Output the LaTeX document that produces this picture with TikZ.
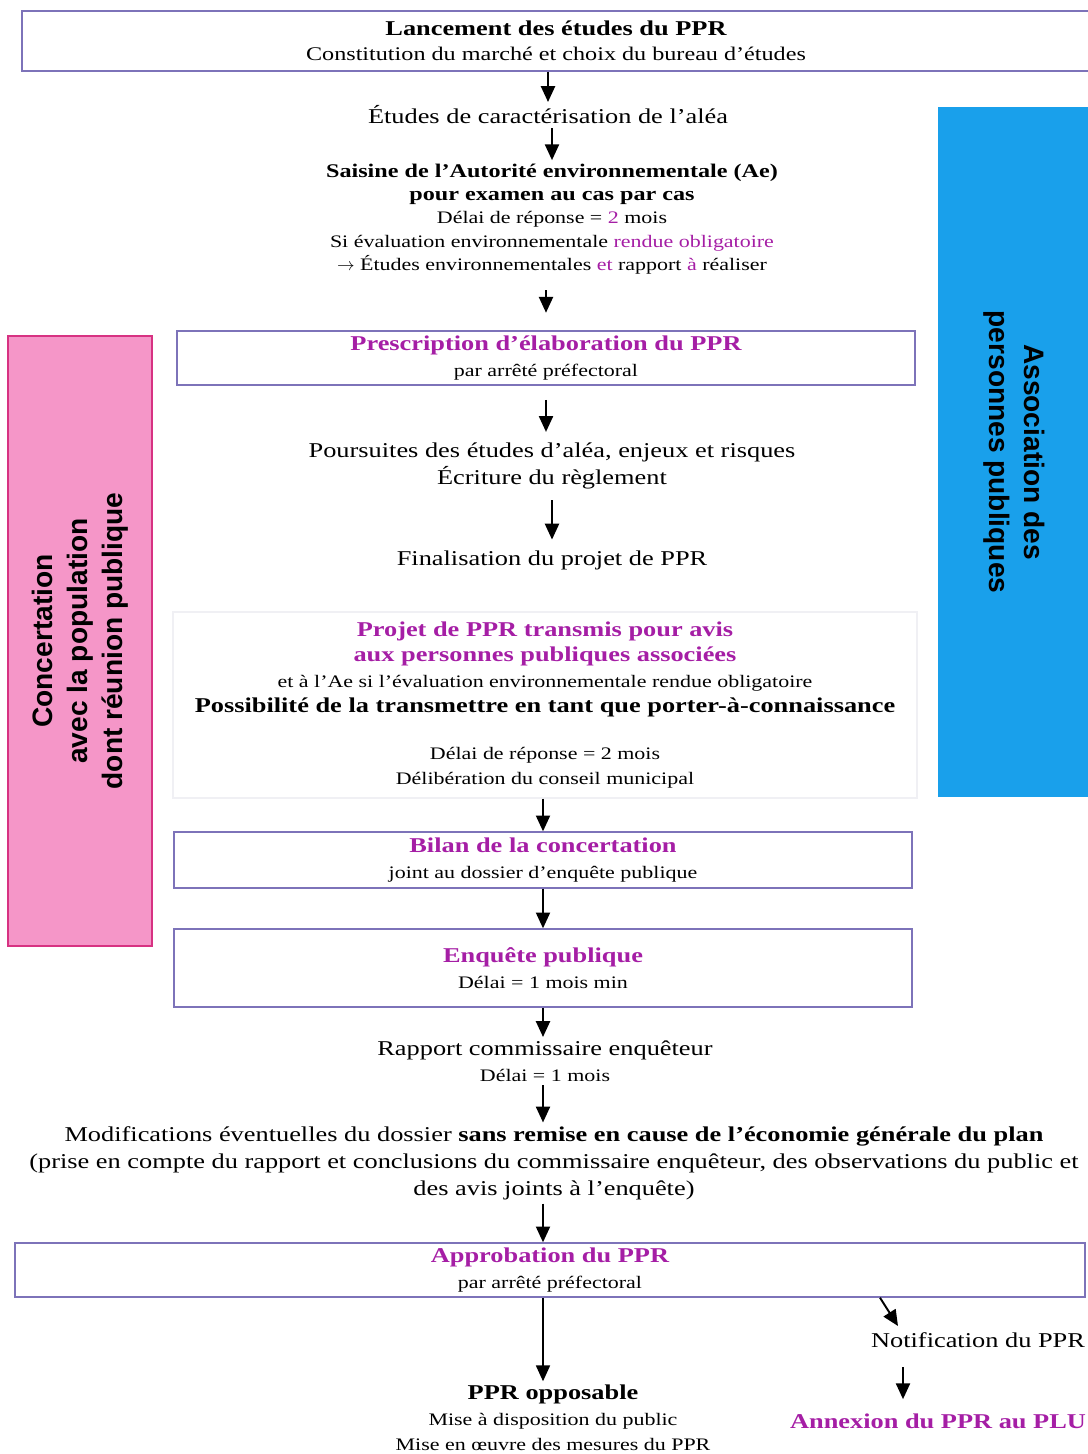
\documentclass[tikz,border=0pt]{standalone}
\usepackage{fontspec}
\setmainfont[FakeStretch=1.25]{Liberation Serif}
\newfontfamily\sidefont{Liberation Sans}
\usetikzlibrary{positioning,arrows.meta}
\definecolor{boxline}{RGB}{125,115,185}
\definecolor{mag}{RGB}{165,30,165}
\definecolor{pinkfill}{RGB}{245,150,200}
\definecolor{pinkline}{RGB}{215,50,130}
\definecolor{bluefill}{RGB}{25,160,235}
\definecolor{faint}{RGB}{240,240,244}
\newcommand\hd{\fontsize{12}{14.5}\selectfont\bfseries}
\newcommand\sm{\fontsize{10}{13}\selectfont}
\tikzset{%
  arrow/.style = { -{Triangle[width=8pt,length=9pt]}, line width = 1.1pt, draw = black },
  tbox/.style  = { draw = #1, thick, align = center, inner sep = 2pt, font = \fontsize{12}{14.5}\selectfont },
  txt/.style   = { align = center, inner sep = 2pt, font = \fontsize{12}{14.5}\selectfont },
  side/.style  = { fill = #1, align = center, font = \sidefont\bfseries\fontsize{16}{20}\selectfont }
}
\begin{document}
\begin{tikzpicture}[x=0.02cm, y=-0.02cm]
\useasboundingbox (0,0) rectangle (1088,1454);
% side bands
\node (conc)  [side=pinkfill, draw=pinkline, thick, rotate=90, minimum width=12.2cm, minimum height=2.88cm] at (80,641)
  {Concertation\\ avec la population\\ dont réunion publique};
\node (assoc) [side=bluefill, rotate=-90, minimum width=13.82cm, minimum height=3.04cm] at (1014,452)
  {Association des\\ personnes publiques};
% main column
\node (lanc) [tbox=boxline, minimum width=21.36cm, minimum height=1.2cm] at (556,41)
  {{\hd Lancement des études du PPR}\\ {\fontsize{11}{13}\selectfont Constitution du marché et choix du bureau d'études}};
\node (etudes) [txt] at (548,115) {Études de caractérisation de l'aléa};
\node (saisine) [txt, font=\fontsize{11}{13.2}\selectfont] at (552,219)
  {{\bfseries Saisine de l'Autorité environnementale (Ae)}\\ {\bfseries pour examen au cas par cas}\\
   {\sm Délai de réponse = \textcolor{mag}{2} mois}\\
   {\sm Si évaluation environnementale \textcolor{mag}{rendue obligatoire}}\\
   {\sm $\rightarrow$ Études environnementales \textcolor{mag}{et} rapport \textcolor{mag}{à} réaliser}};
\node (presc) [tbox=boxline, minimum width=14.76cm, minimum height=1.08cm] at (546,358)
  {{\hd\color{mag} Prescription d'élaboration du PPR}\\ {\sm par arrêté préfectoral}};
\node (pours) [txt] at (552,466) {Poursuites des études d'aléa, enjeux et risques\\[1pt] Écriture du règlement};
\node (final) [txt] at (552,560) {Finalisation du projet de PPR};
\node (projet) [tbox=faint, minimum width=14.88cm, minimum height=3.72cm] at (545,705)
  {{\hd\color{mag} Projet de PPR transmis pour avis}\\ {\hd\color{mag} aux personnes publiques associées}\\
   {\sm et à l'Ae si l'évaluation environnementale rendue obligatoire}\\
   {\hd Possibilité de la transmettre en tant que porter-à-connaissance}\\[12pt]
   {\sm Délai de réponse = 2 mois}\\ {\sm Délibération du conseil municipal}};
\node (bilan) [tbox=boxline, minimum width=14.76cm, minimum height=1.12cm] at (543,860)
  {{\hd\color{mag} Bilan de la concertation}\\ {\sm joint au dossier d'enquête publique}};
\node (enq) [tbox=boxline, minimum width=14.76cm, minimum height=1.56cm] at (543,968)
  {{\hd\color{mag} Enquête publique}\\ {\sm Délai = 1 mois min}};
\node (rapport) [txt] at (545,1061) {Rapport commissaire enquêteur\\ {\sm Délai = 1 mois}};
\node (modif) [txt, font=\fontsize{12}{15.4}\selectfont] at (554,1163)
  {Modifications éventuelles du dossier \textbf{sans remise en cause de l'économie générale du plan}\\
   (prise en compte du rapport et conclusions du commissaire enquêteur, des observations du public et\\
   des avis joints à l'enquête)};
\node (approb) [tbox=boxline, minimum width=21.4cm, minimum height=1.08cm] at (550,1270)
  {{\hd\color{mag} Approbation du PPR}\\ {\sm par arrêté préfectoral}};
\node (oppos) [txt] at (553,1418)
  {{\hd PPR opposable}\\ {\sm Mise à disposition du public}\\ {\sm Mise en œuvre des mesures du PPR}};
\node (notif) [txt] at (978,1340) {Notification du PPR};
\node (annex) [txt] at (938,1421) {{\hd\color{mag} Annexion du PPR au PLU}};
\coordinate (dstart) at (880,0);
\coordinate (dend) at (898,1326);
\coordinate (nb) at (903,0);
% arrows
\draw[arrow] (lanc.south -| etudes) -- (etudes.north);
\draw[arrow] (etudes.south -| saisine) -- (saisine.north);
\draw[arrow, shorten <=7pt, shorten >=10pt] (saisine.south -| presc) -- (presc.north);
\draw[arrow, shorten <=8pt, shorten >=4pt] (presc.south) -- (pours.north -| presc);
\draw[arrow, shorten <=4pt, shorten >=4pt] (pours.south) -- (final.north);
\draw[arrow] (projet.south -| bilan) -- (bilan.north);
\draw[arrow] (bilan.south) -- (enq.north);
\draw[arrow] (enq.south) -- (rapport.north -| enq);
\draw[arrow] (rapport.south -| enq) -- (modif.north -| enq);
\draw[arrow] (modif.south -| enq) -- (approb.north -| enq);
\draw[arrow, line width=0.8pt] (approb.south -| enq) -- (oppos.north -| enq);
\draw[arrow] (approb.south -| dstart) -- (dend);
\draw[arrow, shorten <=9pt, shorten >=6pt] (notif.south -| nb) -- (annex.north -| nb);
\end{tikzpicture}
\end{document}
